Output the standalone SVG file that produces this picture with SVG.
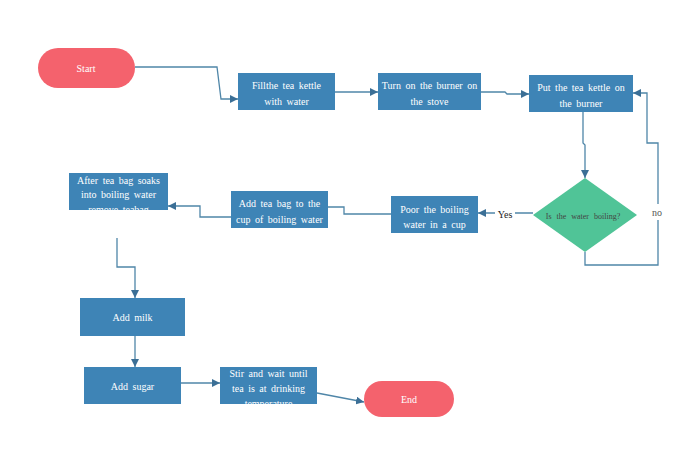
<svg xmlns="http://www.w3.org/2000/svg" width="700" height="466" viewBox="0 0 700 466">
<style>
.box{fill:#3e84b6;}
.pill{fill:#f4626d;}
.dia{fill:#50c497;}
.t{font-family:"Liberation Serif","DejaVu Serif",serif;font-size:10px;fill:#ffffff;text-anchor:middle;word-spacing:2px;}
.dt{font-family:"Liberation Serif","DejaVu Serif",serif;font-size:8px;fill:#444444;text-anchor:middle;word-spacing:3px;}
.lbl{font-family:"Liberation Serif","DejaVu Serif",serif;font-size:10px;fill:#222222;text-anchor:middle;}
.c{fill:none;stroke:#4f86a8;stroke-width:1.3;}
</style>
<defs>
<marker id="ah" viewBox="0 0 10 10" refX="10" refY="5" markerWidth="8" markerHeight="8" markerUnits="userSpaceOnUse" orient="auto">
<path d="M0,0 L10,5 L0,10 z" fill="#3b6f96"/>
</marker>
<clipPath id="clipAfter"><rect x="69" y="173" width="99" height="37"/></clipPath>
<clipPath id="clipStir"><rect x="220" y="367" width="97" height="37"/></clipPath>
</defs>
<rect width="700" height="466" fill="#ffffff"/>
<g id="connectors">
<path class="c" d="M135,67 H217 L221,99 H238" marker-end="url(#ah)"/>
<path class="c" d="M335,92 H378" marker-end="url(#ah)"/>
<path class="c" d="M481,92 H505 L507,94 H529" marker-end="url(#ah)"/>
<path class="c" d="M583,112 V143 L585,145 V178" marker-end="url(#ah)"/>
<path class="c" d="M533,213 H478" marker-end="url(#ah)"/>
<path class="c" d="M585,252 V265 H658 V143 H647 V93 H633" marker-end="url(#ah)"/>
<path class="c" d="M391,214 H344 V207 H328"/>
<path class="c" d="M231,217 H200 V206 H168" marker-end="url(#ah)"/>
<path class="c" d="M117,238 V267 H135 V298" marker-end="url(#ah)"/>
<path class="c" d="M135,336 V367" marker-end="url(#ah)"/>
<path class="c" d="M181,383 H220" marker-end="url(#ah)"/>
<path class="c" d="M317,393 L364,402" marker-end="url(#ah)"/>
<rect x="495" y="206" width="20" height="14" fill="#ffffff"/>
<text class="lbl" x="505" y="218">Yes</text>
<rect x="648" y="204" width="18" height="16" fill="#ffffff"/>
<text class="lbl" x="657" y="216" fill="#555555" style="fill:#555555">no</text>
</g>
<g id="start">
<rect class="pill" x="38" y="48" width="97" height="40" rx="20"/>
<text class="t" x="86" y="72">Start</text>
</g>
<g id="fill">
<rect class="box" x="238" y="73" width="97" height="37"/>
<text class="t" x="286.5" y="89">Fillthe tea kettle</text>
<text class="t" x="286.5" y="105">with water</text>
</g>
<g id="burner">
<rect class="box" x="378" y="73" width="103" height="37"/>
<text class="t" x="429.5" y="89">Turn on the burner on</text>
<text class="t" x="429.5" y="105">the stove</text>
</g>
<g id="put">
<rect class="box" x="529" y="75" width="104" height="37"/>
<text class="t" x="581" y="91">Put the tea kettle on</text>
<text class="t" x="581" y="107">the burner</text>
</g>
<g id="decision">
<polygon class="dia" points="585,178 637,215 585,252 533,215"/>
<text class="dt" x="583" y="219">Is the water boiling?</text>
</g>
<g id="poor">
<rect class="box" x="391" y="196" width="87" height="37"/>
<text class="t" x="434.5" y="213">Poor the boiling</text>
<text class="t" x="434.5" y="228">water in a cup</text>
</g>
<g id="addbag">
<rect class="box" x="231" y="191" width="97" height="37"/>
<text class="t" x="279.5" y="207">Add tea bag to the</text>
<text class="t" x="279.5" y="223">cup of boiling water</text>
</g>
<g id="after">
<rect class="box" x="69" y="173" width="99" height="37"/>
<g clip-path="url(#clipAfter)">
<text class="t" x="118.5" y="184">After tea bag soaks</text>
<text class="t" x="118.5" y="198">into boiling water</text>
<text class="t" x="118.5" y="213">remove teabag</text>
</g>
</g>
<g id="milk">
<rect class="box" x="80" y="298" width="105" height="38"/>
<text class="t" x="132.5" y="321">Add milk</text>
</g>
<g id="sugar">
<rect class="box" x="84" y="367" width="97" height="37"/>
<text class="t" x="132.5" y="390">Add sugar</text>
</g>
<g id="stir">
<rect class="box" x="220" y="367" width="97" height="37"/>
<g clip-path="url(#clipStir)">
<text class="t" x="268.5" y="377">Stir and wait until</text>
<text class="t" x="268.5" y="392">tea is at drinking</text>
<text class="t" x="268.5" y="407">temperature</text>
</g>
</g>
<g id="end">
<rect class="pill" x="364" y="381" width="90" height="36" rx="18"/>
<text class="t" x="409" y="403">End</text>
</g>
</svg>
